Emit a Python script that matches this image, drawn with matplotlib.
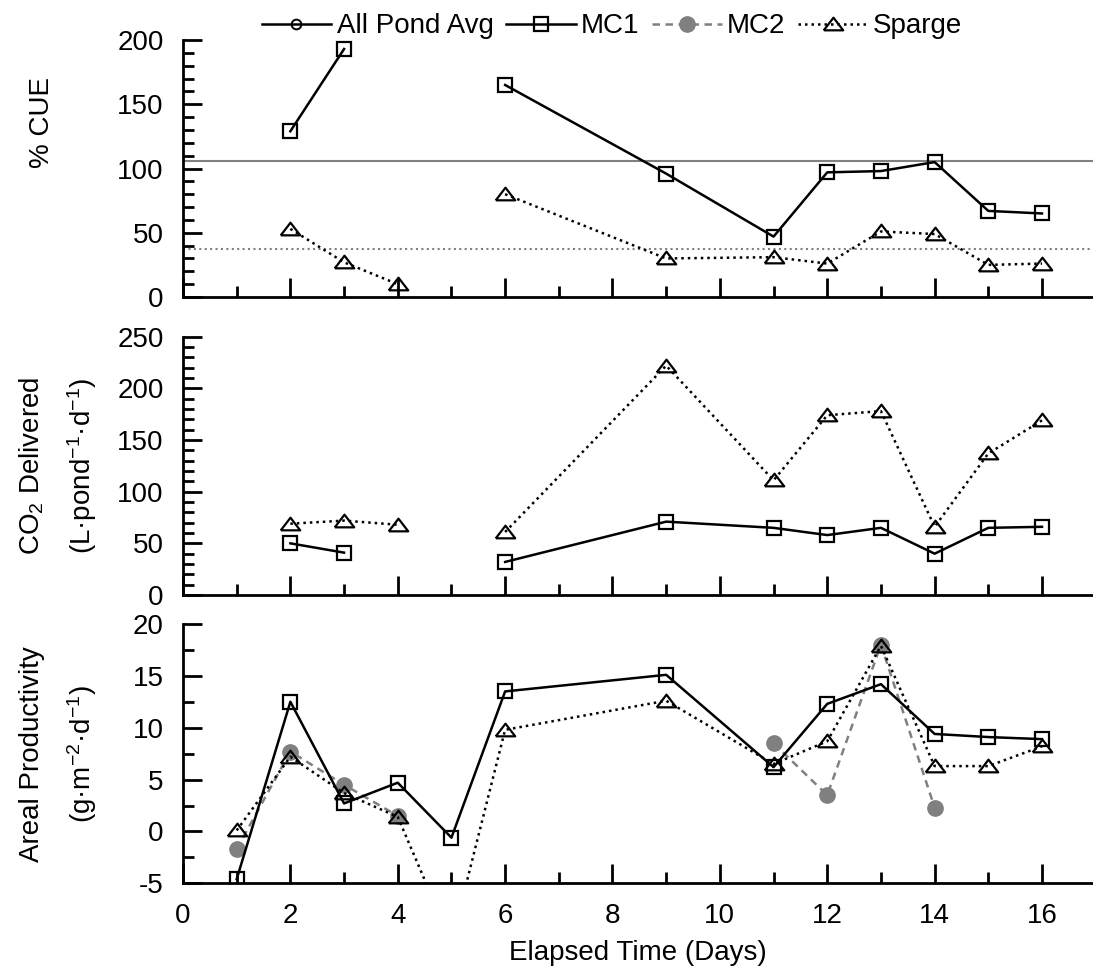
import matplotlib.pyplot as plt
import numpy as np
from matplotlib.ticker import MultipleLocator

plt.rcParams['font.family'] = ['Liberation Sans', 'DejaVu Sans']
plt.rcParams['font.size'] = 20
plt.rcParams['axes.unicode_minus'] = False
plt.rcParams['mathtext.fontset'] = 'custom'
plt.rcParams['mathtext.rm'] = 'Liberation Sans'
plt.rcParams['mathtext.it'] = 'Liberation Sans'
plt.rcParams['mathtext.default'] = 'regular'

nan = np.nan
days = [1, 2, 3, 4, 5, 6, 9, 11, 12, 13, 14, 15, 16]

cue_mc1 = [nan, 129, 193, nan, nan, 165, 96, 47, 97, 98, 105, 67, 65]
cue_sparge = [nan, 53, 27, 10, nan, 80, 30, 31, 26, 51, 49, 25, 26]

co2_mc1 = [nan, 50, 41, nan, nan, 32, 71, 65, 58, 65, 40, 65, 66]
co2_sparge = [nan, 69, 72, 68, nan, 61, 222, 111, 174, 178, 66, 137, 169]

prod_mc1 = [-4.6, 12.5, 2.7, 4.7, -0.6, 13.5, 15.1, 6.2, 12.3, 14.2, 9.4, 9.1, 8.9]
prod_mc2 = [-1.7, 7.7, 4.5, 1.5, nan, nan, nan, 8.5, 3.5, 18.0, 2.3, nan, nan]
prod_sparge = [0.1, 7.2, 3.7, 1.4, -10.7, 9.8, 12.6, 6.5, 8.7, 17.9, 6.3, 6.3, 8.2]

x = np.array(days)
gray = '#808080'
dot = (0, (1, 1.6))
dash = (0, (3, 2.2))
tri = [(-1, -0.6), (1, -0.6), (0, 0.7), (-1, -0.6)]

mc1_kw = dict(color='black', lw=1.8, marker='s', ms=10, mfc='none', mec='black', mew=1.6)
sp_kw = dict(color='black', lw=1.8, ls=dot, marker=tri, ms=14, mfc='none', mec='black', mew=1.6)
mc2_kw = dict(color=gray, lw=1.8, ls=dash, marker='o', ms=11, mfc=gray, mec=gray)

fig = plt.figure(figsize=(10.93, 9.73), dpi=100)
W, H = 1093, 973
left = 183 / W
width = (W - 183) / W
ax1 = fig.add_axes([left, 1 - 297 / H, width, 257 / H])
ax2 = fig.add_axes([left, 1 - 595 / H, width, 258.3 / H])
ax3 = fig.add_axes([left, 1 - 883.3 / H, width, 259.3 / H])

# top: carbon use efficiency with mean lines
ax1.axhline(np.nanmean(cue_mc1), color=gray, lw=1.5, zorder=1)
ax1.axhline(np.nanmean(cue_sparge), color=gray, lw=1.5, ls=dot, zorder=1)
ax1.plot(x, cue_mc1, **mc1_kw)
ax1.plot(x, cue_sparge, **sp_kw)
ax1.set_ylim(0, 200)
ax1.yaxis.set_major_locator(MultipleLocator(50))
ax1.yaxis.set_minor_locator(MultipleLocator(10))

# middle: CO2 delivered
ax2.plot(x, co2_mc1, **mc1_kw)
ax2.plot(x, co2_sparge, **sp_kw)
ax2.set_ylim(0, 250)
ax2.yaxis.set_major_locator(MultipleLocator(50))
ax2.yaxis.set_minor_locator(MultipleLocator(10))

# bottom: areal productivity
ax3.plot(x, prod_mc2, **mc2_kw)
ax3.plot(x, prod_mc1, **mc1_kw)
ax3.plot(x, prod_sparge, **sp_kw)
ax3.set_ylim(-5, 20)
ax3.yaxis.set_major_locator(MultipleLocator(5))
ax3.yaxis.set_minor_locator(MultipleLocator(2.5))
ax3.set_xlabel('Elapsed Time (Days)', labelpad=8)

for ax in (ax1, ax2, ax3):
    ax.set_xlim(0, 16.95)
    ax.xaxis.set_major_locator(MultipleLocator(2))
    ax.xaxis.set_minor_locator(MultipleLocator(1))
    for s in ('top', 'right'):
        ax.spines[s].set_visible(False)
    for s in ('left', 'bottom'):
        ax.spines[s].set_linewidth(2)
    ax.tick_params(which='major', direction='in', length=14, width=2, pad=14)
    ax.tick_params(which='minor', direction='in', length=8, width=2)
    ax.patch.set_alpha(0)
for ax in (ax1, ax2):
    ax.tick_params(axis='x', labelbottom=False)

fig.text(42 / W, 1 - 122 / H, '% CUE', rotation=90, ha='center', va='center')
fig.text(32 / W, 1 - 466 / H, 'CO$_2$ Delivered', rotation=90, ha='center', va='center')
fig.text(82 / W, 1 - 466 / H, '(L·pond$^{-1}$·d$^{-1}$)', rotation=90, ha='center', va='center')
fig.text(32 / W, 1 - 754 / H, 'Areal Productivity', rotation=90, ha='center', va='center')
fig.text(82 / W, 1 - 754 / H, '(g·m$^{-2}$·d$^{-1}$)', rotation=90, ha='center', va='center')

# legend handles
h_avg, = ax1.plot([], [], color='black', lw=1.8, marker='o', ms=7, mfc='none', mec='black', mew=1.4)
h_mc1, = ax1.plot([], [], **mc1_kw)
h_mc2, = ax1.plot([], [], **mc2_kw)
h_sp, = ax1.plot([], [], **sp_kw)
fig.legend([h_avg, h_mc1, h_mc2, h_sp], ['All Pond Avg', 'MC1', 'MC2', 'Sparge'],
           loc='upper center', bbox_to_anchor=(612 / W, 1.012), ncol=4, frameon=False,
           handlelength=2.5, handletextpad=0.2, columnspacing=0.45, fontsize=20)

fig.savefig('out.png', dpi=100)
